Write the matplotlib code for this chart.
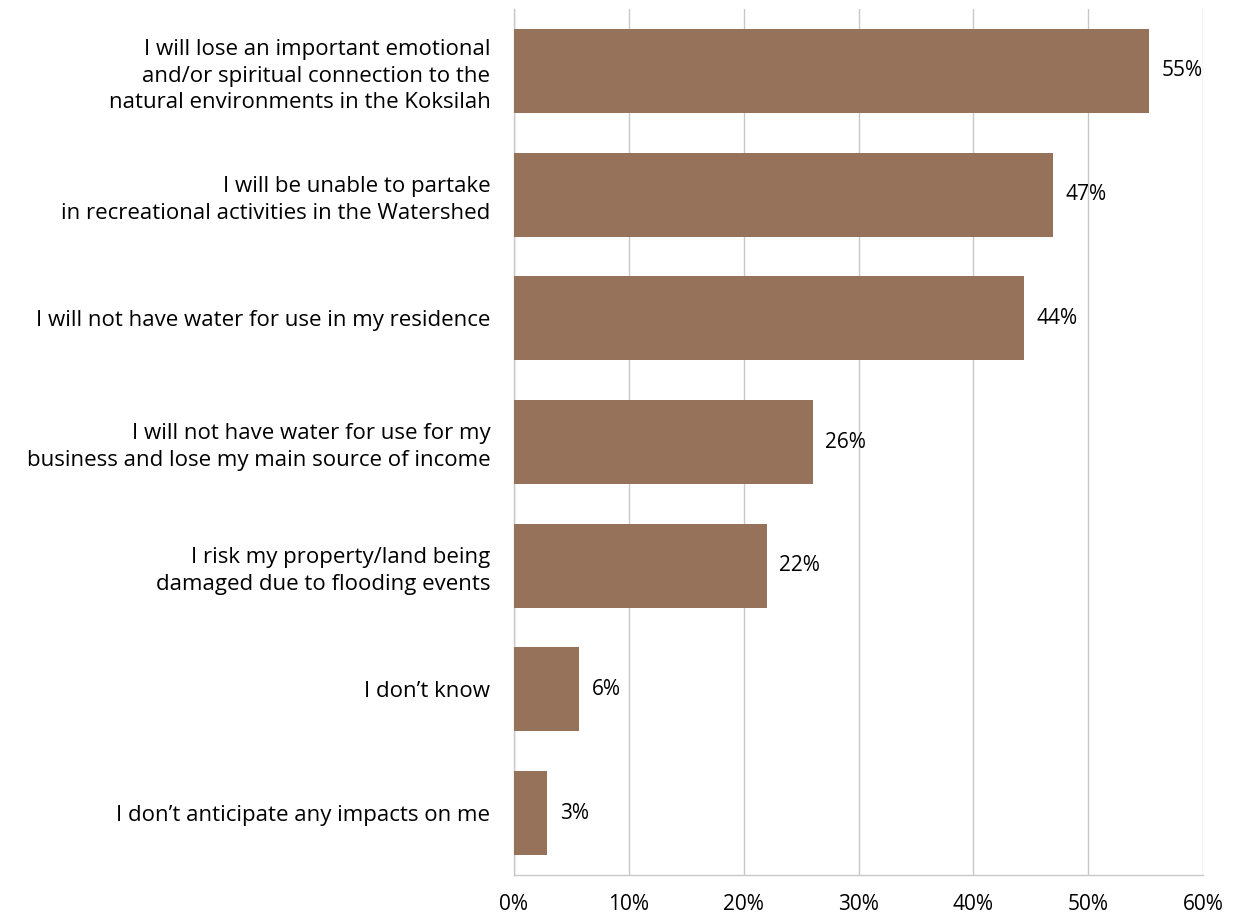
import matplotlib
matplotlib.use("Agg")
import matplotlib.pyplot as plt
from matplotlib.ticker import FuncFormatter, MultipleLocator

plt.rcParams['font.family'] = ['Open Sans', 'DejaVu Sans']

categories = [
    "I will lose an important emotional\nand/or spiritual connection to the\nnatural environments in the Koksilah",
    "I will be unable to partake\nin recreational activities in the Watershed",
    "I will not have water for use in my residence",
    "I will not have water for use for my\nbusiness and lose my main source of income",
    "I risk my property/land being\ndamaged due to flooding events",
    "I don\u2019t know",
    "I don\u2019t anticipate any impacts on me",
]
values = [55.3, 46.9, 44.4, 26.0, 22.0, 5.7, 2.9]

bar_color = "#957259"
grid_color = "#C8C8C8"

fig = plt.figure(figsize=(12.38, 9.18), dpi=100)
ax = fig.add_axes([514 / 1238, 43 / 918, 689 / 1238, 866 / 918])

pos = list(range(len(categories)))
ax.barh(pos, values, height=0.68, color=bar_color, zorder=3)
ax.set_ylim(len(categories) - 0.5, -0.5)
ax.set_xlim(0, 60)
ax.xaxis.set_major_locator(MultipleLocator(10))
ax.xaxis.set_major_formatter(FuncFormatter(lambda v, _: f"{v:.0f}%"))
ax.set_yticks(pos)
ax.set_yticklabels(categories, fontsize=16, linespacing=1.36, ha='right')

ax.grid(axis='x', color=grid_color, linewidth=1, zorder=0)
for side in ['top', 'right']:
    ax.spines[side].set_visible(False)
for side in ['left', 'bottom']:
    ax.spines[side].set_color(grid_color)
    ax.spines[side].set_linewidth(1)
ax.tick_params(axis='both', length=0)
ax.tick_params(axis='x', labelsize=15, pad=14)
ax.tick_params(axis='y', pad=17)

for p, v in zip(pos, values):
    ax.text(v + 1.1, p, f"{v:.0f}%", va='center', ha='left', fontsize=15, zorder=4)

fig.savefig("out.png", dpi=100, facecolor='white')
